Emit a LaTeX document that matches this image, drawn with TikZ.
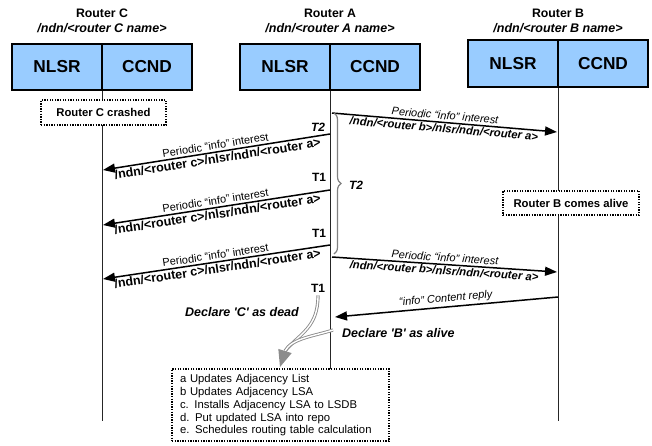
\documentclass[tikz,border=0pt]{standalone}
\usepackage{fontspec}
\setmainfont{Liberation Sans}
\usetikzlibrary{arrows.meta,decorations.pathreplacing}
\definecolor{boxblue}{RGB}{153,204,255}
\definecolor{arrgray}{RGB}{140,140,140}
\newcommand\myfs[1]{\fontsize{#1}{#1}\selectfont}
\begin{document}
\begin{tikzpicture}[x=1pt,y=-1pt,
  title/.style={font=\myfs{12.3}\bfseries, inner sep=0pt},
  subtitle/.style={font=\myfs{12.5}\bfseries\itshape, inner sep=0pt},
  cell/.style={draw=black, line width=1.3pt, fill=boxblue, minimum width=90pt, minimum height=46pt, font=\myfs{17.3}\bfseries, inner sep=0pt},
  life/.style={line width=0.8pt, draw=black!85},
  msg/.style={line width=1.5pt, -{Triangle[length=12pt,width=9pt]}},
  lbl/.style={font=\myfs{11}, sloped, above, inner sep=2.2pt},
  lbli/.style={font=\myfs{11}\itshape, sloped, above, inner sep=2.2pt},
  pathc/.style={font=\myfs{12.5}\bfseries, sloped, below, inner sep=1.2pt},
  pathb/.style={font=\myfs{11.3}\bfseries\itshape, sloped, below, inner sep=1.2pt},
  note/.style={draw, line width=1.3pt, dash pattern=on 1.3pt off 1.3pt, fill=white, font=\myfs{11.3}\bfseries, inner sep=0pt},
  tlab/.style={font=\myfs{12}\bfseries, inner sep=0pt},
  tlabi/.style={font=\myfs{12}\bfseries\itshape, inner sep=0pt},
  decl/.style={font=\myfs{12.5}\bfseries\itshape, inner sep=0pt},
  gcurve/.style={draw=arrgray, line width=0.9pt, double=white, double distance=1.4pt},
  brc/.style={draw=black!50, line width=1.2pt, decorate, decoration={brace, amplitude=7pt}}
]
\useasboundingbox (0,0) rectangle (652,445);

% titles
\node[title] (tC) at (102,13) {Router C};
\node[subtitle] (sC) at (102,28) {/ndn/<router C name>};
\node[title] (tA) at (330,13) {Router A};
\node[subtitle] (sA) at (330,28) {/ndn/<router A name>};
\node[title] (tB) at (558,13) {Router B};
\node[subtitle] (sB) at (558,28) {/ndn/<router B name>};

% coordinates
\coordinate (endC) at (102,421);
\coordinate (endB) at (558,421);
\coordinate (m1s) at (332,113); \coordinate (m1e) at (557,132);
\coordinate (m2s) at (330,134); \coordinate (m2e) at (103,170);
\coordinate (m3s) at (330,190); \coordinate (m3e) at (103,225);
\coordinate (m4s) at (330,245); \coordinate (m4e) at (103,279);
\coordinate (m5s) at (332,257); \coordinate (m5e) at (557,272);
\coordinate (m6s) at (558,297); \coordinate (m6e) at (335,317);
\coordinate (brtop) at (334,113); \coordinate (brbot) at (334,254);
\coordinate (gbase) at (285,351);

% lifelines
\draw[life] (102,90) -- (endC);
\draw[life] (558,87) -- (endB);
\draw[life] (330,90) -- (330,369);

% router boxes
\node[cell] (nlsrC) at (57,67) {NLSR};
\node[cell] (ccndC) at (147,67) {CCND};
\node[cell] (nlsrA) at (285,67) {NLSR};
\node[cell] (ccndA) at (375,67) {CCND};
\node[cell, minimum height=47pt] (nlsrB) at (513,63.5) {NLSR};
\node[cell, minimum height=47pt] (ccndB) at (603,63.5) {CCND};

% notes
\node[note, minimum width=125pt, minimum height=25pt] (crash) at (103.5,112.5) {Router C crashed};
\node[note, minimum width=136pt, minimum height=24pt] (alive) at (571,203) {Router B comes alive};

% messages
\draw[msg] (m1s) -- node[lbli] {Periodic “info” interest} node[pathb] {/ndn/<router b>/nlsr/ndn/<router a>} (m1e);
\draw[msg] (m2s) -- node[lbl] {Periodic “info” interest} node[pathc] {/ndn/<router c>/nlsr/ndn/<router a>} (m2e);
\draw[msg] (m3s) -- node[lbl] {Periodic “info” interest} node[pathc] {/ndn/<router c>/nlsr/ndn/<router a>} (m3e);
\draw[msg] (m4s) -- node[lbl] {Periodic “info” interest} node[pathc] {/ndn/<router c>/nlsr/ndn/<router a>} (m4e);
\draw[msg] (m5s) -- node[lbli] {Periodic “info” interest} node[pathb] {/ndn/<router b>/nlsr/ndn/<router a>} (m5e);
\draw[msg] (m6s) -- node[lbli] {“info” Content reply} (m6e);

% timer labels
\node[tlabi] (t2a) at (318,127) {T2};
\node[tlab] (t1a) at (319,177) {T1};
\node[tlab] (t1b) at (319,233) {T1};
\node[tlab] (t1d) at (318,288) {T1};
\draw[brc] (brtop) -- (brbot);
\node[tlabi] (t2b) at (356,185) {T2};

% declarations
\node[decl] (dC) at (242,312) {Declare \textquotesingle C\textquotesingle\ as dead};
\node[decl, anchor=west] (dB) at (342,333) {Declare \textquotesingle B\textquotesingle\ as alive};

% actions box
\node[note, font=\myfs{11.3}, minimum width=217pt, minimum height=72pt, text width=201pt, align=left, inner xsep=8pt] (act) at (280.5,405)
  {\fontsize{11.3}{13}\selectfont a Updates Adjacency List\\
   b Updates Adjacency LSA\\
   c. Installs Adjacency LSA to LSDB\\
   d. Put updated LSA into repo\\
   e. Schedules routing table calculation};

% gray curved arrows
\draw[gcurve] (t1d.south) ++(0,3) .. controls (318,328) and (300,333) .. (gbase);
\draw[gcurve] (333,330) .. controls (315,336) and (292,338) .. (gbase);
\fill[arrgray] (280,367) -- (278.3,348.9) -- (291.7,353.1) -- cycle;
\end{tikzpicture}
\end{document}
